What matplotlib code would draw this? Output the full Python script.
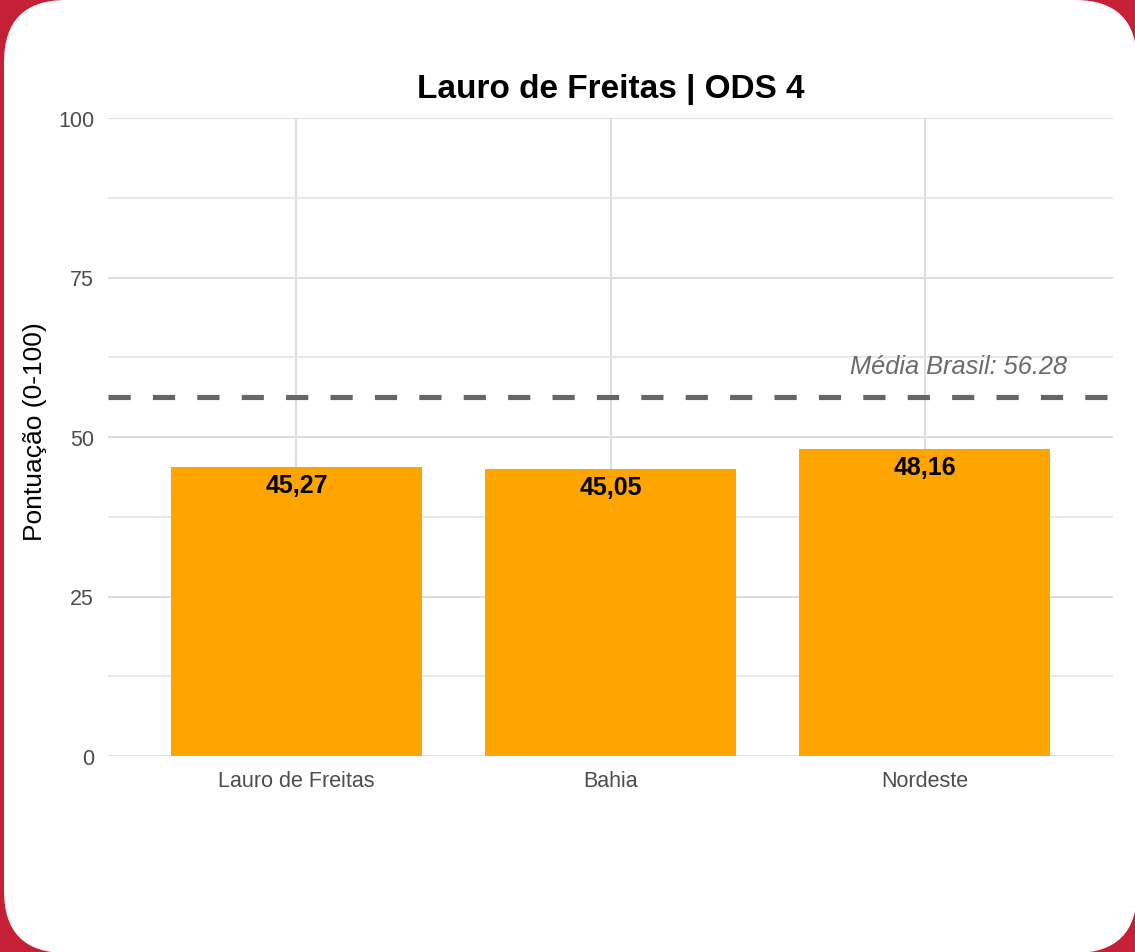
import matplotlib
matplotlib.use("Agg")
import matplotlib.pyplot as plt
from matplotlib.patches import FancyBboxPatch
from matplotlib.transforms import IdentityTransform

plt.rcParams['font.family'] = ['Liberation Sans', 'DejaVu Sans']

# ---- data ----
categories = ["Lauro de Freitas", "Bahia", "Nordeste"]
scores = [45.27, 45.05, 48.16]
score_labels = ["45,27", "45,05", "48,16"]
media_brasil = 56.28
media_label = "Média Brasil: 56.28"
title = "Lauro de Freitas | ODS 4"
ylabel = "Pontuação (0-100)"
yticks = [0, 25, 50, 75, 100]
yminor = [12.5, 37.5, 62.5, 87.5]

W, H = 1135, 953
DPI = 100
fig = plt.figure(figsize=(W / DPI, H / DPI), dpi=DPI)
fig.patch.set_facecolor('#C62037')

# white rounded card (pixel coordinates)
card = FancyBboxPatch((4, H - 954), 1133, 953,
                      boxstyle="round,pad=0,rounding_size=62",
                      transform=IdentityTransform(), facecolor='white',
                      edgecolor='none', zorder=-10)
fig.patches.append(card)

ax = fig.add_axes([108 / W, (H - 757) / H, (1113 - 108) / W, (757 - 119) / H])
ax.set_zorder(5)
ax.set_facecolor('none')

x = list(range(1, len(categories) + 1))
ax.bar(x, scores, width=0.8, color='#FFA500', zorder=2)

ax.set_xlim(0.4, len(categories) + 0.6)
ax.set_ylim(0, 100)
ax.set_xticks(x)
ax.set_xticklabels(categories)
ax.set_yticks(yticks)
ax.set_yticks(yminor, minor=True)

for s in ax.spines.values():
    s.set_visible(False)

ax.grid(True, which='major', axis='both', color='#dedede', linewidth=1.4, zorder=0)
ax.grid(True, which='minor', axis='y', color='#e4e4e4', linewidth=1.2, zorder=0)
ax.set_axisbelow(True)
ax.tick_params(axis='both', which='both', length=0, labelsize=15.5,
               labelcolor='#4d4d4d')
ax.tick_params(axis='x', pad=10)
ax.tick_params(axis='y', pad=10)

# value labels
for xi, v, lab in zip(x, scores, score_labels):
    ax.annotate(lab, xy=(xi, v), xytext=(0, -18), textcoords='offset points',
                ha='center', va='baseline', fontsize=18, fontweight='bold',
                color='black', zorder=3)

# Brazil average
ax.axhline(media_brasil, color='#666666', linewidth=3.7, linestyle=(0, (4.32, 4.32)),
           zorder=3)
ax.annotate(media_label, xy=(1.0, media_brasil), xycoords=('axes fraction', 'data'),
            xytext=(-33, 17), textcoords='offset points', ha='right',
            va='baseline', fontsize=18.3, fontstyle='italic', color='#6b6b6b')

ax.set_title(title, fontsize=24, fontweight='bold', color='black', pad=15)
ax.set_ylabel(ylabel, fontsize=19, color='black')
ax.yaxis.set_label_coords(-61 / (1113 - 108), 0.51)

fig.savefig("out.png", dpi=DPI, facecolor=fig.get_facecolor())
